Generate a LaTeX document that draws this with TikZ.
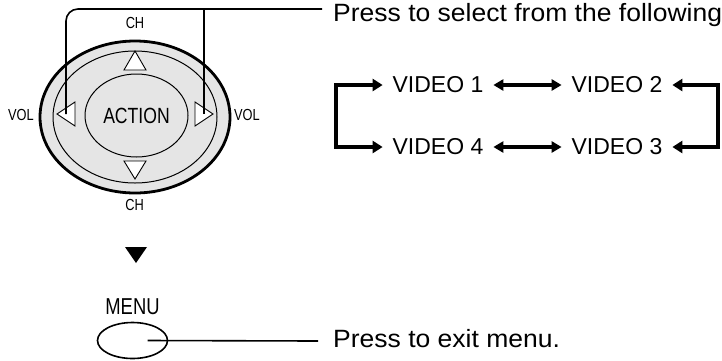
\documentclass[tikz,border=0pt]{standalone}
\usepackage{fontspec}
\setmainfont{Liberation Sans}
\newfontfamily\narrowsf[FakeStretch=0.8]{Liberation Sans}
\newfontfamily\widesf[FakeStretch=1.06]{Liberation Sans}
\usetikzlibrary{shapes.geometric,arrows.meta}
\definecolor{dialgray}{gray}{0.9}

\begin{document}
\begin{tikzpicture}[x=1pt,y=-1pt,
  ring/.style={ellipse,draw,inner sep=0pt},
  keymark/.style={draw,fill=white,line width=0.9pt},
  small/.style={font=\narrowsf\fontsize{16}{16}\selectfont,inner sep=0pt},
  lead/.style={line width=1.6pt},
  big/.style={font=\widesf\fontsize{25}{25}\selectfont,inner sep=0pt,anchor=base west},
  vid/.style={font=\fontsize{23}{23}\selectfont,inner sep=0pt,outer sep=10pt},
  loop/.style={line width=4.5pt,{Triangle[length=10pt,width=12pt]}-{Triangle[length=10pt,width=12pt]}},
  swap/.style={line width=3.5pt,{Triangle[length=10pt,width=11pt]}-{Triangle[length=10pt,width=11pt]}}]

\useasboundingbox (0,0) rectangle (722,360);

% Control dial: outer rim, inner ring and ACTION key
\node (outer) [ring, line width=2.8pt, fill=dialgray, minimum width=190pt, minimum height=152pt] at (135,117) {};
\node (inner) [ring, line width=1pt, minimum width=164pt, minimum height=132pt] at (135,117) {};
\node (action) [ring, line width=1pt, minimum width=103pt, minimum height=83pt,
  font=\narrowsf\fontsize{22}{22}\selectfont] at (136.5,115.5) {ACTION};

% Arrow keys (up, down, left, right)
\draw[keymark] (124,70) -- (146,70) -- (135,51) -- cycle;
\draw[keymark] (124,161) -- (146,161) -- (135,179) -- cycle;
\draw[keymark] (75,102) -- (75,126) -- (57,114) -- cycle;
\draw[keymark] (195,102) -- (195,126) -- (213,114) -- cycle;

% Key labels
\node (chtop) [small] at (135,23) {CH};
\node (chbot) [small] at (134.5,205) {CH};
\node (volleft) [small] at (21,115) {VOL};
\node (volright) [small] at (247,115) {VOL};

% Leader from the VOL keys to the first note
\coordinate (volL) at (66,114);
\coordinate (volR) at (204,114);
\node (select) [big] at (333,21) {Press to select from the following};
\coordinate (selectin) at ([xshift=-11pt,yshift=12pt]select.base west);
\draw[lead, rounded corners=12pt] (volL) |- (selectin);
\draw[lead] (volR) -- (volR |- selectin);

% Input cycle
\node (v1) [vid] at (438,85) {VIDEO 1};
\node (v2) [vid] at (617,85) {VIDEO 2};
\node (v3) [vid] at (617,147) {VIDEO 3};
\node (v4) [vid] at (438,147) {VIDEO 4};
\coordinate (loopL) at (336,116);
\coordinate (loopR) at (718,116);
\draw[loop] (v1.west) -| (loopL) |- (v4.west);
\draw[loop] (v2.east) -| (loopR) |- (v3.east);
\draw[swap] (v1.east) -- (v2.west);
\draw[swap] (v4.east) -- (v3.west);

% Then step
\fill (125,247) -- (147,247) -- (136,263) -- cycle;

% MENU key and second note
\node (menulbl) [font=\narrowsf\fontsize{23}{23}\selectfont, inner sep=0pt] at (132.5,307) {MENU};
\node (menu) [ring, line width=1.6pt, minimum width=70pt, minimum height=36pt] at (132.5,340.5) {};
\node (exit) [big] at (333,347) {Press to exit menu.};
\coordinate (exitin) at ([xshift=-15pt,yshift=6pt]exit.base west);
\draw[lead] ([xshift=15pt]menu.center) -- (exitin);

\end{tikzpicture}
\end{document}
